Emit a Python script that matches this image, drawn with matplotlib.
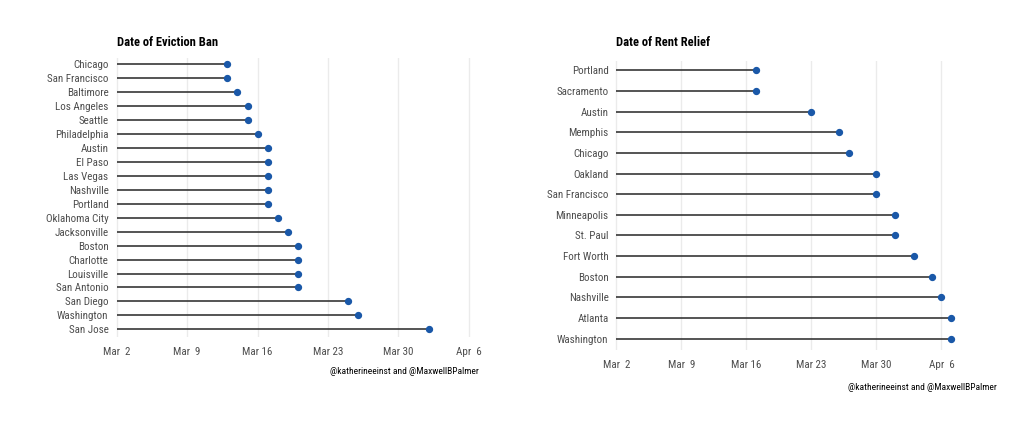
import numpy as np
import matplotlib
matplotlib.use("Agg")
import matplotlib.pyplot as plt
import matplotlib.dates as mdates
import matplotlib.transforms as mtransforms

plt.rcParams['font.family'] = ['Roboto Condensed', 'Liberation Sans Narrow', 'Roboto', 'DejaVu Sans']

# eviction ban dates (2020)
ban_cities = ["Chicago", "San Francisco", "Baltimore", "Los Angeles", "Seattle",
              "Philadelphia", "Austin", "El Paso", "Las Vegas", "Nashville",
              "Portland", "Oklahoma City", "Jacksonville", "Boston", "Charlotte",
              "Louisville", "San Antonio", "San Diego", "Washington", "San Jose"]
ban_dates = ["2020-03-13", "2020-03-13", "2020-03-14", "2020-03-15", "2020-03-15",
             "2020-03-16", "2020-03-17", "2020-03-17", "2020-03-17", "2020-03-17",
             "2020-03-17", "2020-03-18", "2020-03-19", "2020-03-20", "2020-03-20",
             "2020-03-20", "2020-03-20", "2020-03-25", "2020-03-26", "2020-04-02"]

# rent relief dates
relief_cities = ["Portland", "Sacramento", "Austin", "Memphis", "Chicago",
                 "Oakland", "San Francisco", "Minneapolis", "St. Paul",
                 "Fort Worth", "Boston", "Nashville", "Atlanta", "Washington"]
relief_dates = ["2020-03-17", "2020-03-17", "2020-03-23", "2020-03-26", "2020-03-27",
                "2020-03-30", "2020-03-30", "2020-04-01", "2020-04-01",
                "2020-04-03", "2020-04-05", "2020-04-06", "2020-04-07", "2020-04-07"]

start = "2020-03-02"
tick_dates = ["2020-03-02", "2020-03-09", "2020-03-16", "2020-03-23", "2020-03-30", "2020-04-06"]
tick_labels = ["Mar  2", "Mar  9", "Mar 16", "Mar 23", "Mar 30", "Apr  6"]
caption = "@katherineeinst and @MaxwellBPalmer"

W, H = 1024, 426
fig = plt.figure(figsize=(W / 100, H / 100), dpi=100)

def px_axes(x0, x1, y0, y1):
    return fig.add_axes([x0 / W, 1 - y1 / H, (x1 - x0) / W, (y1 - y0) / H])

def lollipop(ax, cities, dates, title, xlim, title_y, cap_xy):
    d = mdates.datestr2num(dates)
    s = mdates.datestr2num(start)
    y = np.arange(len(cities))
    ax.hlines(y, s, d, color="#262626", lw=1.1, zorder=2)
    ax.scatter(d, y, s=18, color="#1a58a8", zorder=3)
    ax.set_yticks(y)
    ax.set_yticklabels(cities)
    ax.set_ylim(len(cities) - 0.45, -0.45)
    ax.set_xticks(mdates.datestr2num(tick_dates))
    ax.set_xticklabels(tick_labels)
    ax.set_xlim(s + xlim[0], s + xlim[1])
    ax.grid(axis="x", color="#ebebeb", lw=1.0, zorder=0)
    for sp in ax.spines.values():
        sp.set_visible(False)
    ax.tick_params(length=0, labelsize=7.9, labelcolor="#4d4d4d")
    ax.tick_params(axis="x", pad=7)
    ax.tick_params(axis="y", pad=1)
    trans = mtransforms.blended_transform_factory(ax.transData, fig.transFigure)
    ax.text(s, 1 - title_y / H, title, transform=trans, ha="left", va="center",
            fontsize=9, fontweight="bold", color="black")
    fig.text(cap_xy[0] / W, 1 - cap_xy[1] / H, caption, ha="right", va="center",
             fontsize=6.8, color="black")

ax1 = px_axes(110, 480, 58, 337)
lollipop(ax1, ban_cities, ban_dates, "Date of Eviction Ban", (-0.67, 36.1), 43, (479, 372))

ax2 = px_axes(610, 960, 61, 350)
lollipop(ax2, relief_cities, relief_dates, "Date of Rent Relief", (-0.68, 37.0), 43, (997, 387))

fig.savefig("out.png", dpi=100, facecolor="white")
